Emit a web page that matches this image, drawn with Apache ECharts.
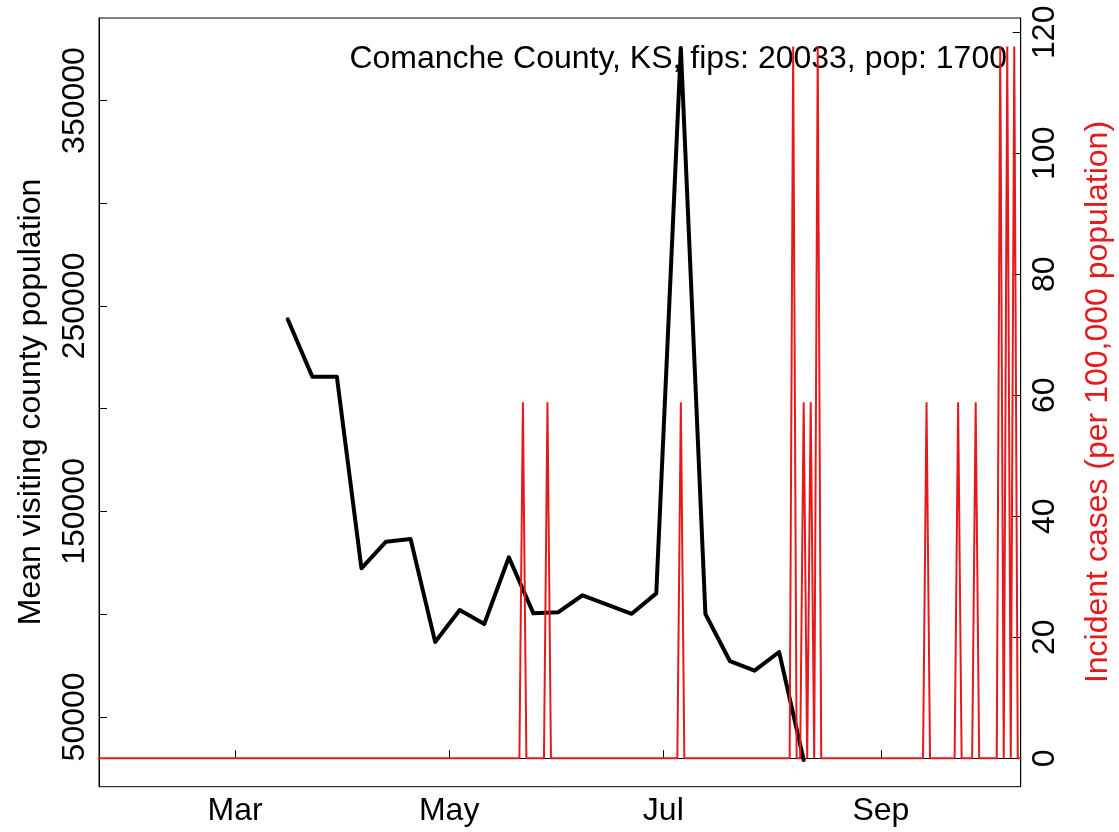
<!DOCTYPE html>
<html>
<head>
<meta charset="utf-8">
<script src="https://cdn.jsdelivr.net/npm/echarts@6.0.0/dist/echarts.min.js"></script>
<style>
html,body{margin:0;padding:0;background:#fff;}
#chart{width:1119px;height:832px;}
</style>
</head>
<body>
<div id="chart"></div>
<script>
// ---------- data ----------
// weekly mean visiting county population (black line)
const blackDates = ['2020-03-16','2020-03-23','2020-03-30','2020-04-06','2020-04-13','2020-04-20','2020-04-27',
  '2020-05-04','2020-05-11','2020-05-18','2020-05-25','2020-06-01','2020-06-08','2020-06-22','2020-06-29',
  '2020-07-06','2020-07-13','2020-07-20','2020-07-27','2020-08-03','2020-08-10'];
const blackValues = [243500, 215600, 215600, 122300, 135300, 136600, 86500,
  102000, 95200, 127700, 100400, 100900, 109200, 100200, 110100,
  375600, 100100, 77100, 72500, 81600, 29000];

// daily incident cases per 100,000 (red line): zero on every day except these
const caseFirstDay = '2020-01-22';
const caseLastDay = '2020-10-11';
const caseDates = ['2020-05-22','2020-05-29','2020-07-06','2020-08-07','2020-08-10','2020-08-12','2020-08-14',
  '2020-09-14','2020-09-23','2020-09-28','2020-10-05','2020-10-07','2020-10-09'];
const caseValues = [58.82, 58.82, 58.82, 117.65, 58.82, 58.82, 117.65,
  58.82, 58.82, 58.82, 117.65, 117.65, 117.65];

// axis ticks / labels
const xTickDates = ['2020-03-01','2020-05-01','2020-07-01','2020-09-01'];
const xTickLabels = ['Mar','May','Jul','Sep'];
const leftTicks = [50000,100000,150000,200000,250000,300000,350000];
const leftLabels = [50000,150000,250000,350000];
const rightTicks = [0,20,40,60,80,100,120];

const titleText = 'Comanche County, KS, fips: 20033, pop: 1700';
const leftTitle = 'Mean visiting county population';
const rightTitle = 'Incident cases (per 100,000 population)';

// ---------- build ----------
const DAY = 86400000;
function utc(s){ const p = s.split('-').map(Number); return Date.UTC(p[0], p[1]-1, p[2]); }

const blackData = blackDates.map((d,i)=>[utc(d), blackValues[i]]);
const caseMap = {};
caseDates.forEach((d,i)=>{ caseMap[utc(d)] = caseValues[i]; });
const redData = [];
for (let t = utc(caseFirstDay); t <= utc(caseLastDay); t += DAY) {
  redData.push([t, caseMap[t] !== undefined ? caseMap[t] : 0]);
}
const xTickTimes = xTickDates.map(utc);

const FONT = '"Liberation Sans", Arial, Helvetica, sans-serif';
const RED = '#E41A1C';
const mar1 = utc('2020-03-01');

const chart = echarts.init(document.getElementById('chart'), null, {renderer:'canvas'});
chart.setOption({
  animation: false,
  backgroundColor: '#ffffff',
  grid: {left: 99, right: 98.3, top: 18, bottom: 45.3, show: true,
         borderColor: '#000', borderWidth: 1, backgroundColor: 'transparent'},
  xAxis: {
    type: 'value', min: mar1 - 38.77*DAY, max: mar1 + 223.83*DAY, scale: true,
    axisLine: {show: true, lineStyle: {color: '#000', width: 1}},
    axisTick: {show: true, inside: true, length: 8, customValues: xTickTimes, lineStyle: {color: '#000', width: 1}},
    axisLabel: {customValues: xTickTimes, color: '#000', fontSize: 32, fontFamily: FONT, margin: 8,
      formatter: function(v){ const i = xTickTimes.indexOf(v); return i >= 0 ? xTickLabels[i] : ''; }},
    splitLine: {show: false}
  },
  yAxis: [
    {type: 'value', position: 'left', min: 16030, max: 390150,
     axisLine: {show: true, lineStyle: {color: '#000', width: 1}},
     axisTick: {show: true, inside: true, length: 8, customValues: leftTicks, lineStyle: {color: '#000', width: 1}},
     axisLabel: {customValues: leftLabels, rotate: 90, color: '#000', fontSize: 32, fontFamily: FONT, margin: 8,
       formatter: function(v){ return String(v); }},
     splitLine: {show: false}},
    {type: 'value', position: 'right', min: -4.706, max: 122.353,
     axisLine: {show: true, lineStyle: {color: '#000', width: 1}},
     axisTick: {show: true, inside: true, length: 8, customValues: rightTicks, lineStyle: {color: '#000', width: 1}},
     axisLabel: {customValues: rightTicks, rotate: 90, color: '#000', fontSize: 32, fontFamily: FONT, margin: 8,
       formatter: function(v){ return String(v); }},
     splitLine: {show: false}}
  ],
  graphic: [
    {type: 'text', x: 1007, y: 59, z: 0,
     style: {text: titleText, fill: '#000', fontSize: 32, fontFamily: FONT,
             align: 'right', verticalAlign: 'middle', textAlign: 'right', textVerticalAlign: 'middle'}},
    {type: 'text', x: 31, y: 402, rotation: Math.PI/2, z: 0,
     style: {text: leftTitle, fill: '#000', fontSize: 32, fontFamily: FONT,
             align: 'center', verticalAlign: 'middle', textAlign: 'center', textVerticalAlign: 'middle'}},
    {type: 'text', x: 1098, y: 402, rotation: Math.PI/2, z: 0,
     style: {text: rightTitle, fill: RED, fontSize: 32, fontFamily: FONT,
             align: 'center', verticalAlign: 'middle', textAlign: 'center', textVerticalAlign: 'middle'}}
  ],
  series: [
    {type: 'line', name: 'visiting', yAxisIndex: 0, data: blackData, showSymbol: false, symbol: 'none',
     lineStyle: {color: '#000', width: 4, join: 'round', cap: 'round'}, z: 3, clip: true},
    {type: 'line', name: 'cases', yAxisIndex: 1, data: redData, showSymbol: false, symbol: 'none',
     lineStyle: {color: RED, width: 2}, z: 4, clip: true}
  ]
});
</script>
</body>
</html>
